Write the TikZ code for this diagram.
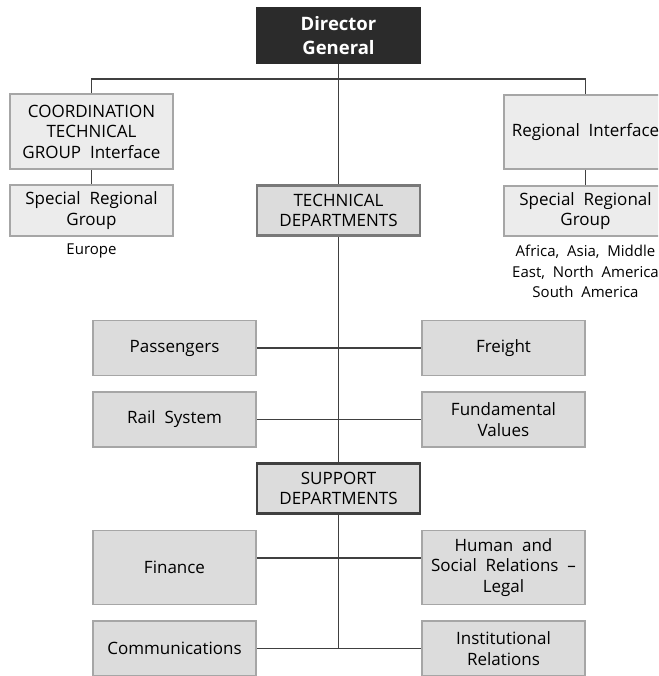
\documentclass[tikz,border=0pt]{standalone}
\usepackage{fontspec}
\setmainfont{Open Sans}
\usetikzlibrary{positioning}
\definecolor{linegray}{HTML}{404040}
\definecolor{boxline}{HTML}{A6A6A6}
\definecolor{topfill}{HTML}{ECECEC}
\definecolor{deptfill}{HTML}{DCDCDC}
\definecolor{darkfill}{HTML}{2B2B2B}
\tikzset{
  unit/.style={draw=boxline,line width=1.6pt,minimum width=163pt,align=center,
    inner sep=0pt,font=\fontsize{17}{20.5}\selectfont},
  regbox/.style={unit,fill=topfill},
  subbox/.style={unit,fill=deptfill},
  headbox/.style={unit,fill=deptfill,line width=2.6pt},
  note/.style={align=center,inner sep=0pt,font=\fontsize{15}{20.5}\selectfont},
  link/.style={draw=linegray,line width=1.3pt}
}
\begin{document}
\begin{tikzpicture}[x=1pt,y=-1pt]
		\useasboundingbox (0,0) rectangle (658,676);
		\clip (0,0) rectangle (658,676);
		\fill[white] (0,0) rectangle (658,676);
		% top
		\node (dg) [unit,fill=darkfill,draw=darkfill,text=white,minimum height=55pt,font=\fontsize{18.5}{24}\selectfont\bfseries] at (338.5,35.5) {Director\\General};
		\coordinate (top) at (338.5,79);
		\node (coord) [regbox,minimum height=75pt] at (91.5,131.5) {COORDINATION\\TECHNICAL\\GROUP~ Interface};
		\node (srgl) [regbox,minimum height=51pt] at (91.5,210.5) {Special~ Regional\\Group};
		\node (regi) [regbox,minimum height=74pt] at (585.5,132) {Regional~ Interface};
		\node (srgr) [regbox,minimum height=50pt] at (585.5,211) {Special~ Regional\\Group};
		\node (eur) [note] at (91.5,251) {Europe};
		\node (world) [note] at (585.5,271.5) {Africa,~ Asia,~ Middle\\East,~ North~ America\\South~ America};
		% technical
		\node (tech) [headbox,draw=gray!95!black,minimum height=50pt] at (338.5,210.5) {TECHNICAL\\DEPARTMENTS};
		\node (pass) [subbox,minimum height=55pt] at (174.5,348) {Passengers};
		\node (frei) [subbox,minimum height=55pt] at (503.5,348) {Freight};
		\node (rail) [subbox,minimum height=55pt] at (174.5,419.5) {Rail~ System};
		\node (fund) [subbox,minimum height=55pt] at (503.5,419.5) {Fundamental\\Values};
		% support
		\node (supp) [headbox,draw=darkfill!90,minimum height=50pt] at (338.5,488.5) {SUPPORT\\DEPARTMENTS};
		\node (fin) [subbox,minimum height=74pt] at (174.5,567.5) {Finance};
		\node (hum) [subbox,minimum height=74pt] at (503.5,567.5) {Human~ and\\Social~ Relations~ --\\Legal};
		\node (comm) [subbox,minimum height=55pt] at (174.5,648.5) {Communications};
		\node (inst) [subbox,minimum height=55pt] at (503.5,648.5) {Institutional\\Relations};
		\coordinate (bot) at (supp.south |- comm.east);
		% connectors
		\draw[link] (dg.south) -- (tech.north);
		\draw[link] (coord.north) |- (top) -| (regi.north);
		\draw[link] (coord.south) -- (srgl.north);
		\draw[link] (regi.south) -- (srgr.north);
		\draw[link] (tech.south) -- (supp.north);
		\draw[link] (supp.south) -- (bot);
		\draw[link] (pass.east) -- (frei.west);
		\draw[link] (rail.east) -- (fund.west);
		\draw[link] ([yshift=9.5pt]fin.east) -- ([yshift=9.5pt]hum.west);
		\draw[link] (comm.east) -- (inst.west);
		\end{tikzpicture}
\end{document}
